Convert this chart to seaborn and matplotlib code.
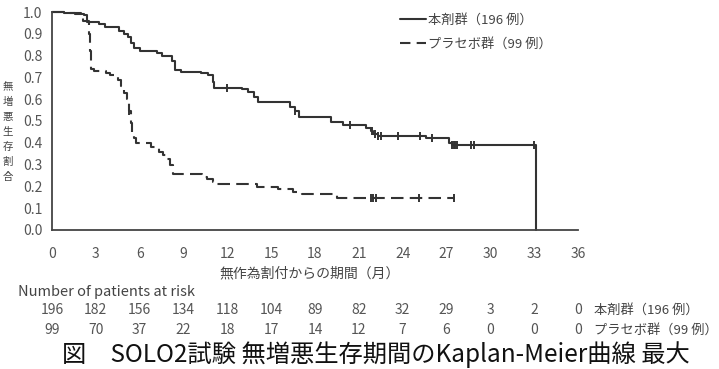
import numpy as np
import pandas as pd
import seaborn as sns
import matplotlib.pyplot as plt
from matplotlib.lines import Line2D
from matplotlib.transforms import ScaledTranslation

sns.set_theme(style="white")
plt.rcParams['font.family'] = ['Noto Sans CJK JP', 'DejaVu Sans']

# ---------------- data ----------------
# 本剤群 (solid): event times (months) and survival after each step
drug_t = [0, 0.8, 1.6, 2.2, 2.4, 3.2, 3.6, 4.6, 4.9, 5.2, 5.4, 5.6, 6.0, 7.2, 7.5,
          8.2, 8.4, 8.8, 10.2, 10.7, 11.0, 11.1, 13.0, 13.4, 13.8, 14.1, 16.3,
          16.6, 16.9, 19.1, 19.9, 21.5, 21.8, 22.0, 22.3, 25.6, 27.2, 27.4, 33.1]
drug_s = [1.0, 0.995, 0.99, 0.985, 0.955, 0.945, 0.93, 0.915, 0.90, 0.885, 0.86,
          0.835, 0.822, 0.81, 0.80, 0.775, 0.735, 0.725, 0.72, 0.71, 0.68, 0.65,
          0.645, 0.635, 0.61, 0.585, 0.565, 0.545, 0.518, 0.497, 0.48, 0.47,
          0.455, 0.44, 0.43, 0.42, 0.40, 0.39, 0.0]
drug_cens = [12.0, 16.6, 20.4, 21.9, 22.1, 22.3, 22.5, 23.7, 25.2, 26.0, 27.4,
             27.5, 27.6, 27.7, 28.7, 28.9, 33.0]

# プラセボ群 (dashed)
plac_t = [0, 1.0, 2.0, 2.1, 2.5, 2.6, 2.7, 2.9, 3.7, 4.0, 4.3, 4.5, 4.7, 4.9, 5.1,
          5.3, 5.4, 5.5, 5.6, 5.75, 6.8, 7.3, 7.6, 7.9, 8.1, 8.3, 10.3, 10.6,
          11.0, 11.3, 14.0, 15.5, 16.5, 17.1, 19.5, 27.6]
plac_s = [1.0, 0.995, 0.985, 0.96, 0.90, 0.82, 0.74, 0.73, 0.72, 0.71, 0.70, 0.69,
          0.66, 0.63, 0.60, 0.545, 0.49, 0.445, 0.42, 0.398, 0.38, 0.36, 0.345,
          0.325, 0.30, 0.257, 0.245, 0.235, 0.22, 0.21, 0.199, 0.188, 0.176,
          0.164, 0.146, 0.146]
plac_cens = [5.3, 21.8, 22.0, 22.2, 25.1, 27.5]

risk_times = [0, 3, 6, 9, 12, 15, 18, 21, 24, 27, 30, 33, 36]
risk_drug = [196, 182, 156, 134, 118, 104, 89, 82, 32, 29, 3, 2, 0]
risk_plac = [99, 70, 37, 22, 18, 17, 14, 12, 7, 6, 0, 0, 0]

lab_drug = '本剤群（196 例）'
lab_plac = 'プラセボ群（99 例）'


def step_value(times, surv, x):
    idx = np.searchsorted(times, x, side='right') - 1
    return np.asarray(surv)[idx]


df_drug = pd.DataFrame({'t': drug_t, 's': drug_s})
df_plac = pd.DataFrame({'t': plac_t, 's': plac_s})
cd = pd.DataFrame({'t': drug_cens, 's': step_value(drug_t[:-1], drug_s[:-1], drug_cens)})
cp = pd.DataFrame({'t': plac_cens, 's': step_value(plac_t, plac_s, plac_cens)})

# ---------------- figure ----------------
fig = plt.figure(figsize=(7.19, 3.69), dpi=100)
ax = fig.add_axes([52 / 719, 1 - 230 / 369, 526 / 719, 218 / 369])

line_c = '#333333'
sns.lineplot(data=df_drug, x='t', y='s', ax=ax, color=line_c, lw=1.5,
             drawstyle='steps-post', sort=False, clip_on=False)
sns.lineplot(data=df_plac, x='t', y='s', ax=ax, color=line_c, lw=1.5,
             drawstyle='steps-post', sort=False, clip_on=False,
             linestyle=(0, (6, 3)))
sns.scatterplot(data=cd, x='t', y='s', ax=ax, marker='|', s=40, color=line_c,
                linewidth=1.4, zorder=3)
sns.scatterplot(data=cp, x='t', y='s', ax=ax, marker='|', s=40, color=line_c,
                linewidth=1.4, zorder=3)

ax.set_xlim(0, 36)
ax.set_ylim(0, 1.0)
ax.set_xticks(risk_times)
ax.set_yticks(np.arange(0, 1.01, 0.1))
ax.set_yticklabels([f'{v:.1f}' for v in np.arange(0, 1.01, 0.1)])
ax.set_xlabel('')
ax.set_ylabel('')
for sp in ['top', 'right']:
    ax.spines[sp].set_visible(False)
for sp in ['left', 'bottom']:
    ax.spines[sp].set_color('#444444')
    ax.spines[sp].set_linewidth(1.3)
ax.tick_params(axis='both', direction='out', length=5, width=1.2, color='#444444',
               labelcolor='#555555', labelsize=10)
ax.tick_params(axis='x', pad=7)
ax.tick_params(axis='y', pad=2)

# legend
handles = [Line2D([], [], color=line_c, lw=1.5),
           Line2D([], [], color=line_c, lw=1.5, linestyle=(0, (5, 3)))]
ax.legend(handles, [lab_drug, lab_plac], loc='upper left',
          bbox_to_anchor=(388 / 719, 1 - 2 / 369), bbox_transform=fig.transFigure,
          frameon=False, fontsize=9.5, handlelength=2.0, handletextpad=0.1,
          labelspacing=0.85, labelcolor='#444444')

# y label (vertical stacked characters)
fig.text(8 / 719, 1 - 132 / 369, '\n'.join('無増悪生存割合'), ha='center',
         va='center', fontsize=7.5, color='#444444', linespacing=1.6)

# x label
fig.text(310 / 719, 1 - 273 / 369, '無作為割付からの期間（月）', ha='center',
         va='center', fontsize=10, color='#444444')

# number at risk
fig.text(18 / 719, 1 - 292 / 369, 'Number of patients at risk', ha='left',
         va='center', fontsize=10.5, color='#444444')
for row_y, vals, lab in [(310, risk_drug, lab_drug), (330, risk_plac, lab_plac)]:
    shift = ScaledTranslation(0, (230 - row_y) / 100, fig.dpi_scale_trans)
    for t, n in zip(risk_times, vals):
        ax.text(t, 0, str(n), transform=ax.get_xaxis_transform() + shift,
                ha='center', va='center', fontsize=10, color='#555555')
    fig.text(594 / 719, 1 - row_y / 369, lab, ha='left', va='center',
             fontsize=9.5, color='#444444')

# caption
fig.text(62 / 719, 1 - 355 / 369, '図　SOLO2試験 無増悪生存期間のKaplan-Meier曲線 最大',
         ha='left', va='center', fontsize=17.5, color='#111111')

fig.savefig('out.png', dpi=100)
